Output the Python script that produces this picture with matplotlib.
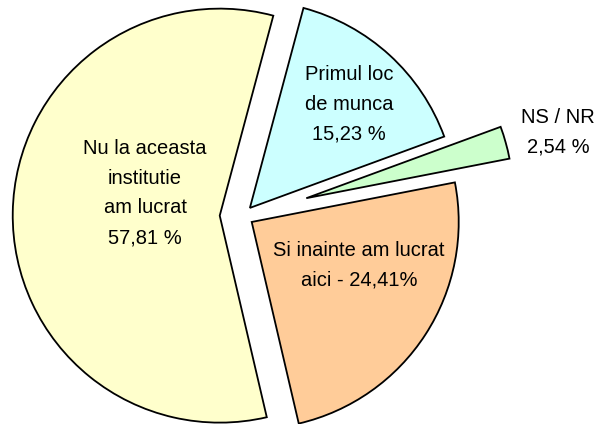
import matplotlib
matplotlib.use('Agg')
import matplotlib.pyplot as plt

# slices in clockwise order, starting at the top
labels = ['Primul loc\nde munca\n15,23 %',
          'NS / NR\n2,54 %',
          'Si inainte am lucrat\naici - 24,41%',
          'Nu la aceasta\ninstitutie\nam lucrat\n57,81 %']
values = [15.23, 2.54, 24.41, 57.81]
colors = ['#CCFFFF', '#CCFFCC', '#FFCC99', '#FFFFCC']
explode = [0.053, 0.32, 0.053, 0.11]  # fraction of radius

plt.rcParams['font.family'] = ['Liberation Sans', 'DejaVu Sans']

fig = plt.figure(figsize=(6, 4.24), dpi=100)
ax = fig.add_axes([0, 0, 1, 1])

# pixel-like units: pie radius and centre
R = 207
wedges, _ = ax.pie(values, colors=colors, explode=[e * R for e in explode],
                   radius=R, center=(242.5, 208), startangle=75,
                   counterclock=False,
                   wedgeprops=dict(edgecolor='black', linewidth=1.3))

# label positions (pixels, y up)
label_pos = [(349, 320), (558, 292), (359, 159), (145, 231)]
spacing = [1.73, 1.7, 1.73, 1.73]
for text, (x, y), ls in zip(labels, label_pos, spacing):
    ax.text(x, y, text, ha='center', va='center', fontsize=14.5,
            linespacing=ls, color='black')

ax.set_xlim(0, 600)
ax.set_ylim(0, 424)
ax.set_aspect('equal')
ax.axis('off')

fig.savefig('out.png', dpi=100)
